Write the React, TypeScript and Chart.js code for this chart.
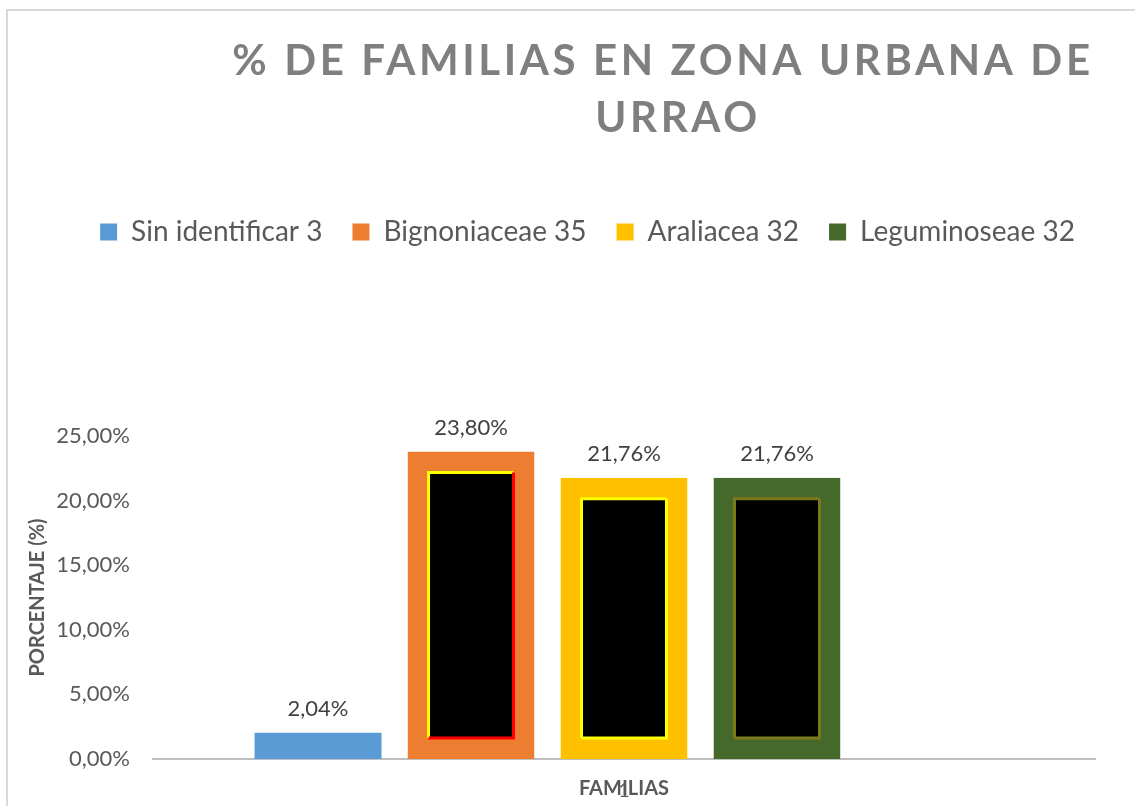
import React, { useEffect, useRef } from 'react';
import { Chart, registerables } from 'chart.js';

Chart.register(...registerables);

const TITLE_LINES = ['% DE FAMILIAS EN ZONA URBANA DE', 'URRAO'];
const CATEGORIES = ['1'];
const SERIES_LABELS = ['Sin identificar 3', 'Bignoniaceae 35', 'Araliacea 32', 'Leguminoseae 32'];
const SERIES_VALUES = [2.04, 23.8, 21.76, 21.76];
const SERIES_COLORS = ['#5B9BD5', '#ED7D31', '#FFC000', '#44692B'];
const SERIES_INNER = [null, ['#FFFF00', '#FF0000'], ['#FFFF00', '#FFFF00'], ['#7A7A1A', '#7A7A1A']];
const Y_MIN = 0;
const Y_MAX = 25;
const Y_STEP = 5;
const Y_TITLE = 'PORCENTAJE (%)';
const X_TITLE = 'FAMILIAS';

const FONT = 'Lato, "Open Sans", sans-serif';
const W = 1135;
const H = 806;
const PAD_LEFT = 20;
const PAD_RIGHT = 40;
const PAD_TOP = 188;
const PAD_BOTTOM = 5;
const PLOT_LEFT = 153;
const PLOT_BOTTOM = 759;
const LEGEND_GAP = 180;
const LEGEND_SHIFT = 30;
const BORDER_W = 21;

const fmt = (v: number) => v.toFixed(2).replace('.', ',') + '%';

const legendSpacer = {
  id: 'legendSpacer',
  beforeUpdate(chart: any) {
    const l = chart.legend;
    if (!l || l._spacerPatched) return;
    const orig = l.fit;
    l.fit = function () {
      orig.call(this);
      this.height += LEGEND_GAP;
    };
    l._spacerPatched = true;
  },
  afterLayout(chart: any) {
    const l = chart.legend;
    if (!l) return;
    l.left += LEGEND_SHIFT;
    l.right += LEGEND_SHIFT;
  },
};

const frame = {
  id: 'frame',
  beforeDraw(chart: any) {
    const ctx = chart.ctx;
    ctx.save();
    ctx.strokeStyle = '#D9D9D9';
    ctx.lineWidth = 2;
    ctx.strokeRect(7, 10, W + 50, H + 50);
    ctx.restore();
  },
  afterDraw(chart: any) {
    const ctx = chart.ctx;
    ctx.save();
    ctx.fillStyle = '#7F7F7F';
    ctx.font = `bold 42px ${FONT}`;
    (ctx as any).letterSpacing = '3.6px';
    ctx.textAlign = 'center';
    ctx.textBaseline = 'middle';
    ctx.fillText(TITLE_LINES[0], 663, 61);
    ctx.fillText(TITLE_LINES[1], 678, 118);
    ctx.restore();
  },
};

const barExtras = {
  id: 'barExtras',
  afterDatasetsDraw(chart: any) {
    const ctx = chart.ctx;
    ctx.save();
    SERIES_VALUES.forEach((val, i) => {
      const meta = chart.getDatasetMeta(i);
      const el = meta.data[0];
      if (!el) return;
      const { x, y, base, width } = el.getProps(['x', 'y', 'base', 'width'], true);
      const inner = SERIES_INNER[i];
      if (inner) {
        const l = x - width / 2 + BORDER_W;
        const r = x + width / 2 - BORDER_W;
        const t = y + BORDER_W;
        const b = base - BORDER_W;
        ctx.lineWidth = 3;
        ctx.strokeStyle = inner[0];
        ctx.beginPath();
        ctx.moveTo(l, b);
        ctx.lineTo(l, t);
        ctx.lineTo(r, t);
        ctx.stroke();
        ctx.strokeStyle = inner[1];
        ctx.beginPath();
        ctx.moveTo(r, t);
        ctx.lineTo(r, b);
        ctx.lineTo(l, b);
        ctx.stroke();
      }
      ctx.fillStyle = '#404040';
      ctx.font = `22px ${FONT}`;
      ctx.textAlign = 'center';
      ctx.textBaseline = 'bottom';
      ctx.fillText(fmt(val), x, y - 13);
    });
    ctx.restore();
  },
};

export default function App() {
  const ref = useRef<HTMLCanvasElement>(null);

  useEffect(() => {
    if (!ref.current) return;
    const datasets: any[] = SERIES_LABELS.map((label, i) => ({
      label,
      data: [SERIES_VALUES[i]],
      backgroundColor: i === 0 ? SERIES_COLORS[i] : '#000000',
      borderColor: SERIES_COLORS[i],
      borderWidth: i === 0 ? 0 : BORDER_W,
      borderSkipped: false,
    }));
    datasets.push({ label: '', data: [null], backgroundColor: 'rgba(0,0,0,0)', borderWidth: 0 });

    const chart = new Chart(ref.current, {
      type: 'bar',
      data: { labels: CATEGORIES, datasets },
      options: {
        responsive: false,
        animation: false,
        devicePixelRatio: 1,
        layout: { padding: { left: PAD_LEFT, right: PAD_RIGHT, top: PAD_TOP, bottom: PAD_BOTTOM } },
        datasets: { bar: { categoryPercentage: 0.812, barPercentage: 0.83 } },
        plugins: {
          title: { display: false },
          tooltip: { enabled: false },
          legend: {
            display: true,
            position: 'top',
            labels: {
              font: { family: FONT, size: 28 },
              color: '#595959',
              boxWidth: 17,
              boxHeight: 17,
              padding: 30,
              generateLabels: () =>
                SERIES_LABELS.map((text, i) => ({
                  text,
                  fillStyle: SERIES_COLORS[i],
                  strokeStyle: SERIES_COLORS[i],
                  lineWidth: 0,
                  hidden: false,
                  datasetIndex: i,
                  fontColor: '#595959',
                })),
            },
          },
        },
        scales: {
          x: {
            offset: true,
            grid: { display: false, drawTicks: false },
            border: { display: true, color: '#BFBFBF', width: 2 },
            ticks: { font: { family: FONT, size: 20 }, color: '#595959', padding: 20 },
            title: {
              display: true,
              text: X_TITLE,
              font: { family: FONT, size: 20, weight: 'bold' },
              color: '#595959',
              padding: { top: 0, bottom: 0 },
            },
            afterFit: (scale: any) => {
              scale.height = H - PAD_BOTTOM - PLOT_BOTTOM;
            },
          },
          y: {
            min: Y_MIN,
            max: Y_MAX,
            grid: { display: false, drawTicks: false },
            border: { display: false },
            ticks: {
              stepSize: Y_STEP,
              font: { family: FONT, size: 22 },
              color: '#595959',
              padding: 23,
              callback: (v: any) => fmt(Number(v)),
            },
            title: {
              display: true,
              text: Y_TITLE,
              font: { family: FONT, size: 20, weight: 'bold' },
              color: '#595959',
              padding: { top: 6, bottom: 0 },
            },
            afterFit: (scale: any) => {
              scale.width = PLOT_LEFT - PAD_LEFT;
            },
          },
        },
      } as any,
      plugins: [legendSpacer, frame, barExtras],
    });
    return () => chart.destroy();
  }, []);

  return (
    <div style={{ position: 'absolute', left: 0, top: 0, width: W, height: H, background: '#fff' }}>
      <canvas ref={ref} width={W} height={H} style={{ width: W, height: H, display: 'block' }} />
    </div>
  );
}
